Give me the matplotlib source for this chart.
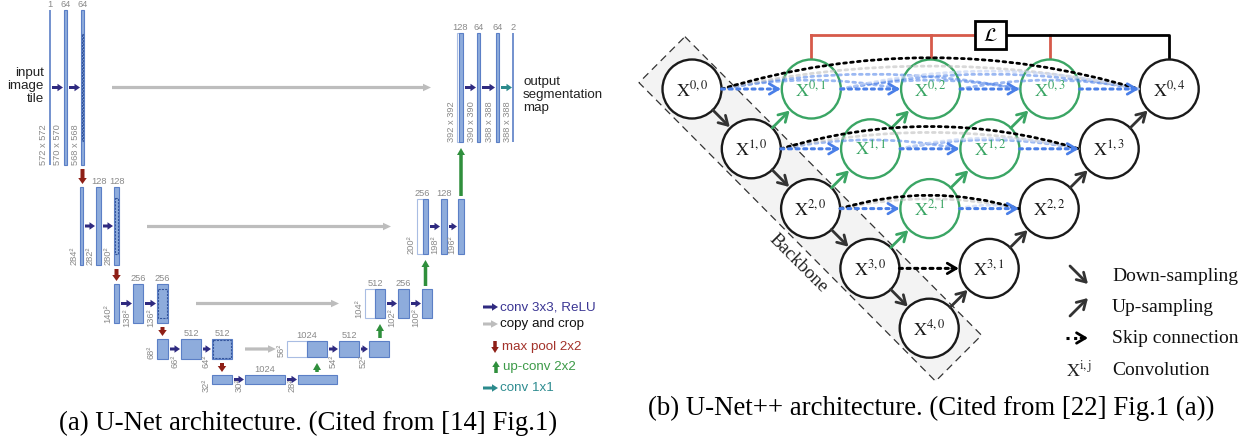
import matplotlib
matplotlib.use("Agg")
import matplotlib.pyplot as plt
from matplotlib.patches import Rectangle, Circle, Polygon, FancyArrowPatch
import numpy as np

plt.rcParams["mathtext.fontset"] = "stix"

# ---------------- (a) U-Net: labels per level ----------------
ENC_CH = [["1", "64", "64"], ["", "128", "128"], ["", "256", "256"],
          ["", "512", "512"], ["", "1024", ""]]
ENC_SIZE = [[572, 570, 568], [284, 282, 280], [140, 138, 136],
            [68, 66, 64], [32, 30, 28]]
DEC_CH = [["128", "64", "64", "2"], ["256", "128", ""], ["512", "256", ""],
          ["1024", "512", ""]]
DEC_SIZE = [[392, 390, 388, 388], [200, 198, 196], [104, 102, 100],
            [56, 54, 52]]
INPUT_TEXT = "input\nimage\ntile"
OUTPUT_TEXT = "output\nsegmentation\nmap"
LEGEND_A = ["conv 3x3, ReLU", "copy and crop", "max pool 2x2",
            "up-conv 2x2", "conv 1x1"]
CAPTION_A = "(a) U-Net architecture. (Cited from [14] Fig.1)"

# ---------------- (b) U-Net++ ----------------
DEPTH = 5
LEGEND_B = ["Down-sampling", "Up-sampling", "Skip connection", "Convolution"]
CAPTION_B = "(b) U-Net++ architecture. (Cited from [22] Fig.1 (a))"

# ---------------- layout (pixels) ----------------
ENC_Y = [(10, 165), (187, 265), (284, 323), (339, 359), (375, 384)]
ENC_X = [[(50, 50), (64, 67), (81, 84)],
         [(80, 83), (96, 101), (114, 119)],
         [(114, 119), (133, 143), (157, 168)],
         [(157, 168), (181, 201), (212, 232)],
         [(212, 232), (245, 285), (298, 337)]]
ENC_DROP = [0, 0, 4, 9, 8]
DEC_Y = [(33, 142), (199, 254), (289, 318), (341, 357)]
DEC_X = [[(457, 463, 459), (477, 480), (496, 499), (513, 513)],
         [(417, 428, 423), (441, 447), (458, 464)],
         [(365, 385, 375), (398, 409), (422, 432)],
         [(287, 327, 307), (339, 359), (369, 389)]]
DEC_DROP = [0, 0, 9, 11]

BLUE = "#8eacdc"
EDGE = "#5b7fc6"
NAVY = "#2f2a80"
GREY = "#bdbdbd"
RED = "#8e1f16"
GREEN_A = "#2f8f3c"
TEAL = "#2b8a8c"
LABEL = "#8a8a8a"
SANS = "Liberation Sans"
SERIF = "Liberation Serif"

fig = plt.figure(figsize=(12.5, 4.44), dpi=100)
ax = fig.add_axes([0, 0, 1, 1])
ax.set_xlim(0, 1250)
ax.set_ylim(444, 0)
ax.axis("off")


def unet_bar(x0, x1, y0, y1, xm=None, crop=None):
    if x1 - x0 < 1:
        ax.plot([x0, x0], [y0, y1], color=EDGE, lw=1.2, solid_capstyle="butt")
        return
    if xm is not None:
        ax.add_patch(Rectangle((x0, y0), xm - x0, y1 - y0, fc="white",
                               ec="#a9bde3", lw=0.8))
        x0 = xm
    ax.add_patch(Rectangle((x0, y0), x1 - x0, y1 - y0, fc=BLUE, ec=EDGE, lw=0.8))
    if crop is not None:
        h = (y1 - y0) * crop
        yc = (y0 + y1) / 2
        ax.add_patch(Rectangle((x0 + 1, yc - h / 2), x1 - x0 - 2, h, fc="none",
                               ec="#34559c", lw=0.8, ls=(0, (2, 1))))


def fat_arrow(x0, y0, x1, y1, color, w=3.0, hw=7.5, hl=5.5):
    ax.arrow(x0, y0, x1 - x0, y1 - y0, width=w, head_width=hw, head_length=hl,
             length_includes_head=True, fc=color, ec=color, lw=0)


def size_text(lvl, col, sz):
    return f"{sz} x {sz}" if lvl == 0 else f"{sz}\u00b2"


# encoder
for L, (y0, y1) in enumerate(ENC_Y):
    for c, (x0, x1) in enumerate(ENC_X[L]):
        crop = None
        if c == 2 and L < len(DEC_SIZE):
            crop = DEC_SIZE[L][0] / ENC_SIZE[L][2]
        unet_bar(x0, x1, y0, y1, crop=crop)
        if ENC_CH[L][c]:
            ax.text((x0 + x1) / 2, y0 - 1, ENC_CH[L][c], ha="center", va="bottom",
                    fontsize=6.7, color=LABEL, family=SANS)
        drop = 0 if c == 0 and L < 4 else ENC_DROP[L]
        ax.text(x0 - 1.5, y1 + drop, size_text(L, c, ENC_SIZE[L][c]), rotation=90,
                ha="right", va="bottom", fontsize=6.7, color=LABEL, family=SANS)
    ym = (y0 + y1) / 2
    for c in range(len(ENC_X[L]) - 1):
        fat_arrow(ENC_X[L][c][1] + 2, ym, ENC_X[L][c + 1][0] - 1, ym, NAVY)
    if L < 4:
        xc = sum(ENC_X[L][2]) / 2
        fat_arrow(xc, y1 + 4, xc, ENC_Y[L + 1][0] - 3, RED, w=4, hw=8.5, hl=6)

# decoder
for L, (y0, y1) in enumerate(DEC_Y):
    for c, b in enumerate(DEC_X[L]):
        x0, x1 = b[0], b[1]
        xm = b[2] if len(b) > 2 else None
        unet_bar(x0, x1, y0, y1, xm=xm)
        if DEC_CH[L][c]:
            ax.text((x0 + x1) / 2, y0 - 1, DEC_CH[L][c], ha="center", va="bottom",
                    fontsize=6.7, color=LABEL, family=SANS)
        drop = 0 if c == 0 else DEC_DROP[L]
        ax.text(x0 - 1.5, y1 + drop, size_text(L, c, DEC_SIZE[L][c]), rotation=90,
                ha="right", va="bottom", fontsize=6.7, color=LABEL, family=SANS)
    ym = (y0 + y1) / 2
    n = len(DEC_X[L])
    for c in range(n - 1):
        col = TEAL if (L == 0 and c == n - 2) else NAVY
        fat_arrow(DEC_X[L][c][1] + 2, ym, DEC_X[L][c + 1][0] - 1, ym, col)
    # copy and crop
    xs = ENC_X[L][2][1]
    xe = DEC_X[L][0][0]
    gap = 28 if xe - xs > 100 else 13
    fat_arrow(xs + gap, ym, xe - gap + 2, ym, GREY, w=3.2, hw=7.5, hl=8)
    # up-conv
    src_top = ENC_Y[4][0] if L == 3 else DEC_Y[L + 1][0]
    xb = (DEC_X[L][0][2] + DEC_X[L][0][1]) / 2
    fat_arrow(xb, src_top - 3, xb, y1 + 6, GREEN_A, w=3.5, hw=8, hl=7)

ax.text(44, 86, INPUT_TEXT, ha="right", va="center", fontsize=9.6,
        family=SANS, linespacing=1.1, color="#222222")
ax.text(523, 95, OUTPUT_TEXT, ha="left", va="center", fontsize=9.6,
        family=SANS, linespacing=1.1, color="#222222")

# legend (a)
leg_y = [307, 324, 347, 367, 388]
leg_col = [NAVY, GREY, RED, GREEN_A, TEAL]
txt_col = ["#3a3593", "#111111", "#a3322a", "#3c9a48", "#2e8c90"]
for k, (y, t) in enumerate(zip(leg_y, LEGEND_A)):
    if k in (0, 1, 4):
        fat_arrow(483, y, 498, y, leg_col[k], hl=6 if k != 1 else 7)
        tx = 500
    elif k == 2:
        fat_arrow(495, y - 6, 495, y + 6, leg_col[k], w=3.5, hw=7.5, hl=6)
        tx = 502
    else:
        fat_arrow(496, y + 6, 496, y - 6, leg_col[k], w=3.5, hw=7.5, hl=6)
        tx = 503
    ax.text(tx, y, t, ha="left", va="center", fontsize=9.6, family=SANS,
            color=txt_col[k])

ax.text(308, 423, CAPTION_A, ha="center", va="center", fontsize=19.3,
        family=SERIF, color="black")

# ---------------- (b) U-Net++ drawing ----------------
R = 29.5
GREEN = "#3aa564"
DARK = "#333333"
SKIP = "#4a7fe8"
LOSS = "#d65a4a"
O = np.array([692.0, 89.0])
DI = np.array([59.3, 59.8])
DJ = np.array([119.3, 0.0])
HEAD = "->,head_length=0.42,head_width=0.25"
DOTS = (0, (1, 1.5))


def pos(i, j):
    return O + i * DI + j * DJ


def is_green(i, j):
    return j > 0 and i + j < DEPTH - 1


# backbone band
u = np.array([1.0, 1.0]) / np.sqrt(2)
v = np.array([1.0, -1.0]) / np.sqrt(2)
p0, p4 = pos(0, 0), pos(DEPTH - 1, 0)
band = [p0 - 42 * u + 32 * v, p4 + 42 * u + 32 * v,
        p4 + 42 * u - 33 * v, p0 - 42 * u - 33 * v]
ax.add_patch(Polygon(band, closed=True, fc="#f3f3f3", ec="#333333", lw=0.9,
                     ls=(0, (6, 4)), zorder=1))
bt = p0 + 198 * u - 48 * v
ax.text(bt[0], bt[1], "Backbone", rotation=-45, ha="center", va="center",
        fontsize=13.5, family=SERIF, color="#222222", rotation_mode="anchor")


def head(p, q, color, z=4):
    d = (q - p) / np.linalg.norm(q - p)
    ax.add_patch(FancyArrowPatch(tuple(q - d * 7), tuple(q), arrowstyle=HEAD,
                                 mutation_scale=15, lw=2.0, color=color,
                                 shrinkA=0, shrinkB=0, zorder=z))


def solid(p, q, color):
    d = (q - p) / np.linalg.norm(q - p)
    a, b = p + d * R, q - d * (R + 1)
    ax.add_patch(FancyArrowPatch(tuple(a), tuple(b), arrowstyle=HEAD,
                                 mutation_scale=15, lw=2.0, color=color,
                                 shrinkA=0, shrinkB=0, zorder=3))


def dotted(p, q, color, rad=0.0, alpha=1.0, arrow=True, z=3, lw=2.0):
    a = p + np.array([R, 0])
    b = q - np.array([R + 1, 0])
    ax.add_patch(FancyArrowPatch(tuple(a), tuple(b), arrowstyle="-",
                                 connectionstyle=f"arc3,rad={rad}", color=color,
                                 lw=lw, ls=DOTS, alpha=alpha,
                                 shrinkA=0, shrinkB=0, zorder=z))
    if arrow:
        head(a, b, color, z=z + 1)


# dense skip arcs (faded and blue)
for i in range(DEPTH - 1):
    last = DEPTH - 1 - i
    for k in range(last + 1):
        for m in range(k + 2, last + 1):
            if k == 0 and m == last:
                continue
            dotted(pos(i, k), pos(i, m), SKIP, rad=-0.1, alpha=0.55, arrow=False)
    if last >= 2:
        dotted(pos(i, 0), pos(i, last), "#bfbfbf", rad=-0.11, alpha=0.6,
               arrow=False, z=3)
        dotted(pos(i, 1), pos(i, last), "#c9d7f5", rad=-0.12, alpha=0.7,
               arrow=False, z=3)
        dotted(pos(i, 0), pos(i, last), "black", rad=-0.15, arrow=False, z=4)

# straight skips
for i in range(DEPTH - 1):
    for j in range(DEPTH - 1 - i):
        col = "black" if i == DEPTH - 2 else SKIP
        dotted(pos(i, j), pos(i, j + 1), col, z=4, lw=2.2)

# down / up sampling
for i in range(DEPTH - 1):
    solid(pos(i, 0), pos(i + 1, 0), DARK)
for i in range(DEPTH):
    for j in range(1, DEPTH - i):
        solid(pos(i + 1, j - 1), pos(i, j), GREEN if is_green(i, j) else DARK)

# nodes
for i in range(DEPTH):
    for j in range(DEPTH - i):
        c = GREEN if is_green(i, j) else "#1a1a1a"
        p = pos(i, j)
        ax.add_patch(Circle(tuple(p), R, fc="white", ec=c, lw=1.7, zorder=2))
        ax.text(p[0], p[1] + 1, rf"$\mathrm{{X}}^{{{i},{j}}}$", ha="center",
                va="center", fontsize=13, color=c, zorder=5)

# loss box and deep supervision lines
top = O[1] - R
ytop = 35
bx0, bx1 = 975, 1006
xs = [pos(0, j)[0] for j in range(1, DEPTH)]
ax.plot([xs[0], bx0], [ytop, ytop], color=LOSS, lw=2, zorder=1)
for x in xs[:-1]:
    ax.plot([x, x], [ytop, top], color=LOSS, lw=2, zorder=1)
ax.plot([bx1, xs[-1], xs[-1]], [ytop, ytop, top], color="black", lw=2, zorder=1)
ax.add_patch(Rectangle((bx0, 21), bx1 - bx0, 28, fc="white", ec="black", lw=2,
                       zorder=5))
ax.text((bx0 + bx1) / 2, 35, r"$\mathcal{L}$", ha="center", va="center",
        fontsize=14, zorder=6)

# legend (b)
ax.add_patch(FancyArrowPatch((1070, 266), (1088, 284), arrowstyle=HEAD,
                             mutation_scale=15, lw=2.0, color=DARK,
                             shrinkA=0, shrinkB=0))
ax.add_patch(FancyArrowPatch((1070, 316), (1088, 298), arrowstyle=HEAD,
                             mutation_scale=15, lw=2.0, color=DARK,
                             shrinkA=0, shrinkB=0))
ax.plot([1066, 1082], [338, 338], color="black", lw=2.2, ls=DOTS)
head(np.array([1066.0, 338.0]), np.array([1088.0, 338.0]), "black")
ax.text(1066, 370, r"$\mathrm{X}^{\mathrm{i,j}}$", ha="left", va="center",
        fontsize=13, color="#222222")
for y, t in zip([276, 307, 338, 370], LEGEND_B):
    ax.text(1112, y, t, ha="left", va="center", fontsize=14, family=SERIF,
            color="#111111")

ax.text(931, 408, CAPTION_B, ha="center", va="center", fontsize=19.3,
        family=SERIF, color="black")

fig.savefig("out.png", dpi=100)
